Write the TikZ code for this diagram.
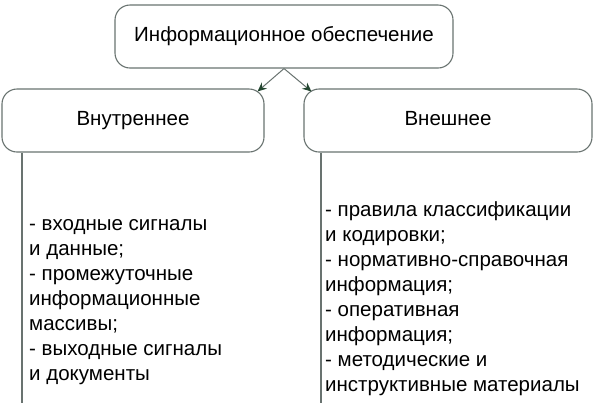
\documentclass[tikz,border=0pt]{standalone}
\usepackage{fontspec}
\setmainfont{Liberation Sans}
\usetikzlibrary{arrows.meta,calc}
\definecolor{boxline}{RGB}{105,115,112}
\definecolor{tipgreen}{RGB}{35,70,48}
\tikzset{
  box/.style={draw=boxline, line width=1.1pt, rounded corners=15pt, minimum height=63pt, inner sep=0pt,
    text height=15pt, text depth=4.3pt,
    font=\fontsize{20.5}{25}\selectfont, text=black},
  conn/.style={draw=boxline, line width=1pt, -{Stealth[length=9pt,width=8pt,fill=tipgreen,color=tipgreen]}},
  vline/.style={draw=boxline, line width=1.1pt},
  listtext/.style={align=left, anchor=base west, inner sep=0pt, font=\fontsize{20.5}{25}\selectfont, text=black}
}
\begin{document}
\begin{tikzpicture}[x=1pt,y=-1pt]
\useasboundingbox (0,0) rectangle (602,408);
\node[box, minimum width=338pt] (top) at (284,36.5) {Информационное обеспечение};
\node[box, minimum width=262pt] (left) at (133,120.5) {Внутреннее};
\node[box, minimum width=288pt] (right) at (448,120.5) {Внешнее};
\draw[conn] (top.south) -- ($(left.north east)+(-7,3)$);
\draw[conn] (top.south) -- ($(right.north west)+(8,3)$);
\coordinate (lend) at (22,403);
\coordinate (rend) at (321,403);
\draw[vline] (left.south -| lend) -- (lend);
\draw[vline] (right.south -| rend) -- (rend);
\node[listtext] (ltext) at (29,380) {- входные сигналы\\и данные;\\- промежуточные\\информационные\\массивы;\\- выходные сигналы\\и документы};
\node[listtext] (rtext) at (325,391) {- правила классификации\\и кодировки;\\- нормативно-справочная\\информация;\\- оперативная\\информация;\\- методические и\\инструктивные материалы};
\end{tikzpicture}
\end{document}
